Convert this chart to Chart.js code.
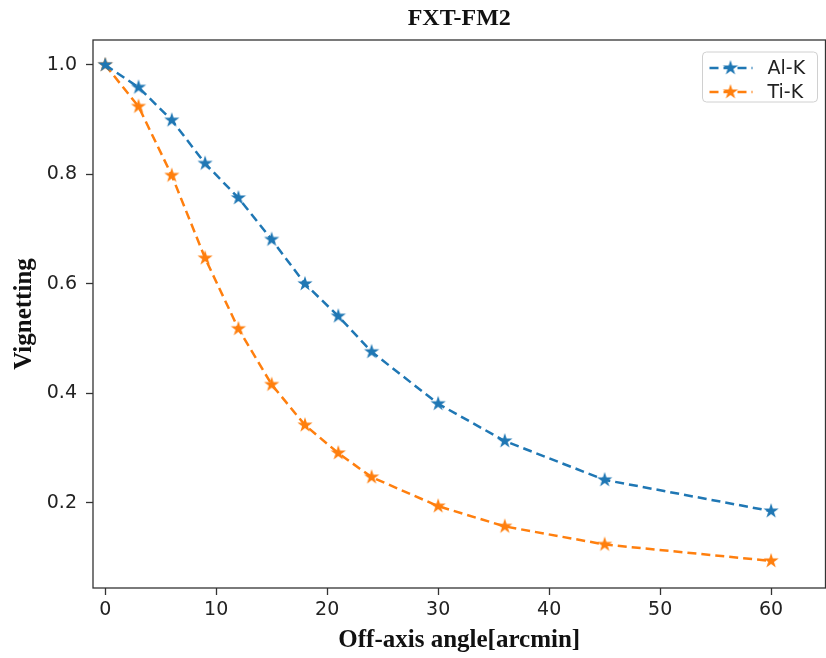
<!DOCTYPE html>
<html>
<head>
<meta charset="utf-8">
<script src="https://cdn.jsdelivr.net/npm/chart.js@4.4.1/dist/chart.umd.min.js"></script>
<style>
  html, body { margin: 0; background: #fff; overflow: hidden; width: 826px; height: 658px; }
  canvas { display: block; }
</style>
</head>
<body>
<!-- canvas is a little wider than the window: Chart.js keeps ~10px free on the right -->
<canvas id="chart" width="836" height="658"></canvas>
<script>
const angles = [0, 3, 6, 9, 12, 15, 18, 21, 24, 30, 36, 45, 60];
const alK = [1.0, 0.959, 0.899, 0.820, 0.757, 0.681, 0.600, 0.541, 0.476, 0.381, 0.313, 0.242, 0.185];
const tiK = [1.0, 0.924, 0.798, 0.647, 0.518, 0.416, 0.342, 0.291, 0.247, 0.194, 0.157, 0.124, 0.094];
const seriesNames = ['Al-K', 'Ti-K'];
const xTicks = [0, 10, 20, 30, 40, 50, 60];
const yTicks = [0.2, 0.4, 0.6, 0.8, 1.0];

const BLUE = '#1f77b4';
const ORANGE = '#ff7f0e';
const SERIF = '"Liberation Serif", "Times New Roman", serif';
const SANS = '"DejaVu Sans", sans-serif';

// filled five point star, like matplotlib's '*' marker
function makeStar(color, r) {
  const size = Math.ceil(r * 2 + 2);
  const c = document.createElement('canvas');
  c.width = c.height = size;
  const g = c.getContext('2d');
  g.fillStyle = color;
  g.beginPath();
  for (let i = 0; i < 10; i++) {
    const rr = i % 2 ? r * 0.382 : r;
    const a = -Math.PI / 2 + i * Math.PI / 5;
    g.lineTo(size / 2 + rr * Math.cos(a), size / 2 + rr * Math.sin(a));
  }
  g.closePath();
  g.fill();
  return c;
}

const stars = [makeStar(BLUE, 8), makeStar(ORANGE, 8)];

function toPoints(ys) {
  return angles.map((x, i) => ({ x, y: ys[i] }));
}

const framePlugin = {
  id: 'frame',
  afterDraw(chart) {
    const { ctx, chartArea: a } = chart;
    ctx.save();
    // axes box
    ctx.strokeStyle = '#333';
    ctx.lineWidth = 1.3;
    ctx.strokeRect(a.left, a.top, a.right - a.left, a.bottom - a.top);

    // title
    ctx.fillStyle = '#111';
    ctx.font = 'bold 24px ' + SERIF;
    ctx.textAlign = 'center';
    ctx.textBaseline = 'middle';
    ctx.fillText('FXT-FM2', (a.left + a.right) / 2, 19);

    // legend
    const bw = 115, bh = 50;
    const bx = a.right - 8 - bw, by = a.top + 12;
    ctx.beginPath();
    ctx.roundRect(bx, by, bw, bh, 4);
    ctx.fillStyle = 'rgba(255,255,255,0.9)';
    ctx.fill();
    ctx.strokeStyle = '#d0d0d0';
    ctx.lineWidth = 1;
    ctx.stroke();

    chart.data.datasets.forEach((ds, i) => {
      const y = by + 16 + i * 24;
      ctx.strokeStyle = ds.borderColor;
      ctx.lineWidth = 2.5;
      ctx.setLineDash([9, 5]);
      ctx.beginPath();
      ctx.moveTo(bx + 7, y);
      ctx.lineTo(bx + 50, y);
      ctx.stroke();
      ctx.setLineDash([]);
      const img = stars[i];
      ctx.drawImage(img, bx + 28 - img.width / 2, y - img.height / 2);
      ctx.fillStyle = '#222';
      ctx.font = '19px ' + SANS;
      ctx.textAlign = 'left';
      ctx.textBaseline = 'middle';
      ctx.fillText(ds.label, bx + 65, y + 1);
    });
    ctx.restore();
  }
};

new Chart(document.getElementById('chart'), {
  type: 'line',
  data: {
    datasets: [
      { label: seriesNames[0], data: toPoints(alK), borderColor: BLUE, pointStyle: stars[0] },
      { label: seriesNames[1], data: toPoints(tiK), borderColor: ORANGE, pointStyle: stars[1] }
    ].map(ds => Object.assign(ds, {
      borderWidth: 2.5,
      borderDash: [9, 5],
      tension: 0,
      fill: false,
      pointRadius: 8,
      pointHoverRadius: 8,
      clip: false
    }))
  },
  options: {
    responsive: false,
    animation: false,
    layout: { padding: { top: 40, right: 1, left: 0, bottom: 0 } },
    plugins: {
      legend: { display: false },
      tooltip: { enabled: false },
      title: { display: false }
    },
    scales: {
      x: {
        type: 'linear',
        min: -1.1,
        max: 64.9,
        afterFit: s => { s.height = 70; },
        afterBuildTicks: s => { s.ticks = xTicks.map(v => ({ value: v })); },
        ticks: { font: { family: SANS, size: 19 }, color: '#222', padding: 4, maxRotation: 0 },
        grid: { drawOnChartArea: false, drawTicks: true, tickLength: 7, tickColor: '#333', tickWidth: 1.3 },
        border: { display: false },
        title: {
          display: true,
          text: 'Off-axis angle[arcmin]',
          font: { family: SERIF, size: 25, weight: 'bold' },
          color: '#111',
          padding: { top: 0, bottom: 2 }
        }
      },
      y: {
        min: 0.0445,
        max: 1.0455,
        afterFit: s => { s.width = 93; },
        afterBuildTicks: s => { s.ticks = yTicks.map(v => ({ value: v })); },
        ticks: {
          font: { family: SANS, size: 19 },
          color: '#222',
          padding: 9,
          callback: v => v.toFixed(1)
        },
        grid: { drawOnChartArea: false, drawTicks: true, tickLength: 7, tickColor: '#333', tickWidth: 1.3 },
        border: { display: false },
        title: {
          display: true,
          text: 'Vignetting',
          font: { family: SERIF, size: 25, weight: 'bold' },
          color: '#111',
          padding: { top: 10, bottom: 0 }
        }
      }
    }
  },
  plugins: [framePlugin]
});
</script>
</body>
</html>
